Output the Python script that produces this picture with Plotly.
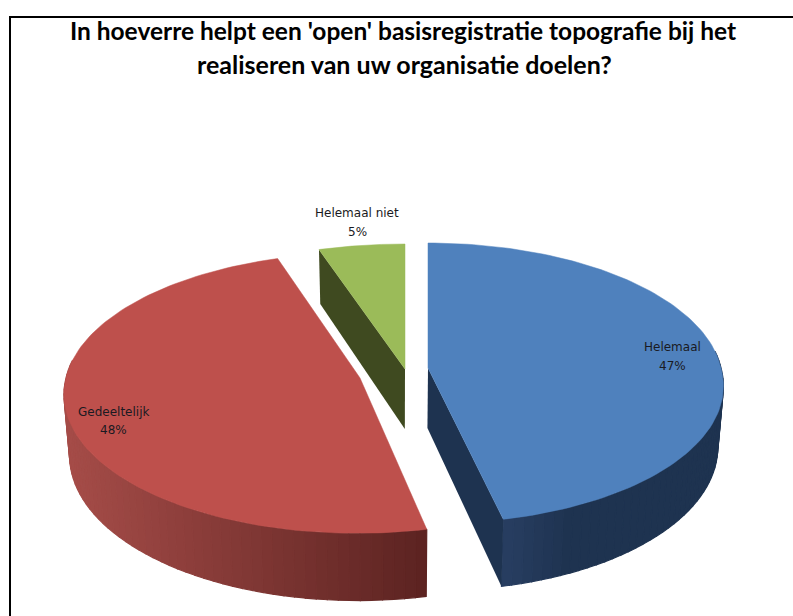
import numpy as np
import plotly.graph_objects as go

# ---- data
categories = ["Helemaal", "Gedeeltelijk", "Helemaal niet"]
values = [46.6, 48.4, 5.0]
title_lines = ["In hoeverre helpt een 'open' basisregistratie topografie bij het",
               "realiseren van uw organisatie doelen?"]

# ---- style / geometry of the exploded tilted pie
W, H = 793, 616
top_colors = ["#4F81BD", "#BE504C", "#9BBB59"]
apexes = [(428, 368), (360, 378), (405, 369)]
radii_x = [293.0, 294.0, 307.0]
near_skew = [6.0, -3.0, 0.0]
wall_left = ["#273D60", "#A54C48", "#3F4A20"]
wall_right = ["#1E3350", "#5A2220", "#3F4A20"]
cut_colors = ["#1E3350", None, "#3F4A20"]
cut_edge = [1, None, 0]
RY, K, DEPTH, SHRINK, CX0 = 138.5, 0.108, 60.0, 0.983, 395.0
label_pos = [(672, 347, 366), (113, 412, 430), (357, 213, 232)]


def rim(i, th):
    apex = apexes[i]
    u, v = np.sin(th), np.cos(th)
    s = 1.0 / (1.0 + K * v)
    x = apex[0] + radii_x[i] * u * s + near_skew[i] * np.maximum(0.0, -v)
    return x, apex[1] - RY * v * s, s


def drop(x, y, s):
    return CX0 + (x - CX0) * SHRINK, y + DEPTH * s


def lerp(c1, c2, t):
    a = [int(c1[i:i + 2], 16) for i in (1, 3, 5)]
    b = [int(c2[i:i + 2], 16) for i in (1, 3, 5)]
    return "rgb(%d,%d,%d)" % tuple(round(p + (q - p) * t) for p, q in zip(a, b))


def poly(xs, ys, color, lw=0.0):
    return go.Scatter(x=list(xs) + [xs[0]], y=list(ys) + [ys[0]], mode="lines", fill="toself",
                      fillcolor=color, line=dict(color=color, width=lw),
                      hoverinfo="skip", showlegend=False)


total = sum(values)
edges = np.concatenate([[0], np.cumsum(values)]) / total * 2 * np.pi
fig = go.Figure()

for i in [2, 0, 1]:
    a0, a1 = edges[i], edges[i + 1]
    apex = apexes[i]
    # outer wall, drawn as narrow strips so that it shades from left to right
    ths = np.linspace(a0, a1, 90)
    for t0, t1 in zip(ths[:-1], ths[1:]):
        if np.cos(t0) > 0.12 and np.cos(t1) > 0.12:
            continue  # far side of the rim is hidden by the top face
        x0, y0, s0 = rim(i, t0)
        x1, y1, s1 = rim(i, t1)
        bx0, by0 = drop(x0, y0, s0)
        bx1, by1 = drop(x1, y1, s1)
        if i == 1:
            f = np.clip((x1 - 65) / (428 - 65), 0, 1)
        else:
            f = np.clip((x1 - 505) / 60, 0, 1)
        fig.add_trace(poly([x0, x1, bx1, bx0], [y0, y1, by1, by0],
                           lerp(wall_left[i], wall_right[i], float(f)), lw=1.2))
    # visible cut face
    if cut_colors[i]:
        edge = edges[i + cut_edge[i]]
        ex, ey, es = rim(i, edge)
        bex, bey = drop(ex, ey, es)
        bax, bay = drop(apex[0], apex[1], 1.0)
        fig.add_trace(poly([apex[0], ex, bex, bax], [apex[1], ey, bey, bay], cut_colors[i]))
    # top face
    arc = np.linspace(a0, a1, 120)
    xs, ys, _ = rim(i, arc)
    fig.add_trace(poly([apex[0]] + list(xs), [apex[1]] + list(ys), top_colors[i], lw=0.5))

annotations = [dict(x=404, y=64, xref="x", yref="y", text=title_lines[1], showarrow=False,
                    font=dict(family="Lato", size=25, color="#000000", weight="bold"))]
for name, val, (lx, ly1, ly2) in zip(categories, values, label_pos):
    for txt, yy in ((name, ly1), (f"{round(val)}%", ly2)):
        annotations.append(dict(x=lx, y=yy, xref="x", yref="y", text=txt, showarrow=False,
                                font=dict(family="DejaVu Sans", size=12, color="#1A1A22")))

fig.update_layout(
    width=W, height=H, margin=dict(l=0, r=0, t=0, b=0),
    paper_bgcolor="white", plot_bgcolor="white", showlegend=False,
    title=dict(text=title_lines[0], x=403 / W, xanchor="center", y=1 - 31 / H, yanchor="middle",
               font=dict(family="Lato", size=24.5, color="#000000", weight="bold")),
    xaxis=dict(range=[0, W], visible=False, fixedrange=True),
    yaxis=dict(range=[H, 0], visible=False, fixedrange=True),
    annotations=annotations,
    shapes=[
        dict(type="line", xref="x", yref="y", x0=10, x1=10, y0=17, y1=H, line=dict(color="#000", width=2)),
        dict(type="line", xref="x", yref="y", x0=9, x1=W, y0=17, y1=17, line=dict(color="#000", width=2)),
    ],
)
fig.write_html("out.html", config=dict(displayModeBar=False),
               post_script="document.body.style.margin='0';document.documentElement.style.overflow='hidden';")
